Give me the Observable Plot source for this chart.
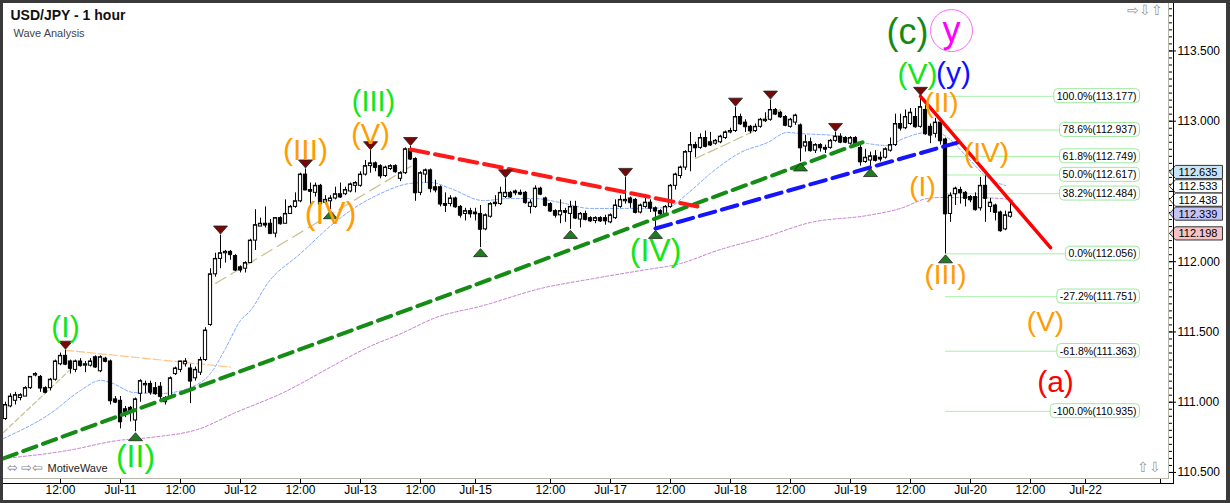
<!DOCTYPE html>
<html><head><meta charset="utf-8">
<script src="https://cdn.jsdelivr.net/npm/d3@7"></script>
<script src="https://cdn.jsdelivr.net/npm/@observablehq/plot@0.6"></script>
<style>
html,body{margin:0;padding:0;background:#fff;}
#wrap{position:relative;width:1230px;height:503px;overflow:hidden;}
#wrap svg{position:absolute;left:0;top:0;}
.ch{position:absolute;}
</style></head>
<body><div id="wrap"></div>
<script>
// ---------- data: hourly OHLC (bar 1..202) ----------
const open = [110.88,110.97,111.01,111.03,111.04,111.10,111.19,111.18,111.10,111.10,111.16,111.27,111.33,111.29,111.23,111.29,111.26,111.26,111.32,111.22,111.31,111.29,111.02,111.01,110.95,110.96,110.87,111.06,111.12,111.13,111.10,111.11,111.00,111.03,111.20,111.23,111.27,111.24,111.17,111.21,111.30,111.55,111.91,112.02,112.06,112.07,112.04,111.96,111.95,111.99,112.15,112.25,112.27,112.27,112.20,112.31,112.27,112.34,112.39,112.43,112.62,112.51,112.49,112.54,112.42,112.43,112.45,112.48,112.48,112.50,112.54,112.54,112.62,112.68,112.70,112.68,112.61,112.66,112.68,112.59,112.63,112.80,112.73,112.49,112.62,112.65,112.53,112.53,112.41,112.41,112.45,112.39,112.34,112.36,112.35,112.34,112.23,112.32,112.41,112.41,112.46,112.49,112.50,112.49,112.49,112.39,112.39,112.52,112.45,112.41,112.36,112.33,112.36,112.34,112.39,112.30,112.34,112.31,112.29,112.31,112.31,112.28,112.31,112.39,112.43,112.45,112.44,112.35,112.39,112.42,112.38,112.36,112.34,112.39,112.54,112.61,112.67,112.78,112.83,112.81,112.88,112.85,112.84,112.85,112.88,112.92,112.93,113.03,112.99,112.96,112.93,112.96,113.00,113.01,113.08,113.06,113.03,112.96,112.99,112.97,112.82,112.85,112.79,112.83,112.81,112.81,112.86,112.89,112.88,112.84,112.88,112.81,112.71,112.72,112.75,112.74,112.74,112.79,112.83,112.98,112.95,112.98,113.03,112.96,113.08,112.96,112.91,112.99,112.87,112.34,112.48,112.51,112.49,112.46,112.46,112.38,112.54,112.39,112.40,112.35,112.23,112.32];
const high = [111.00,111.06,111.07,111.06,111.11,111.18,111.21,111.19,111.11,111.17,111.30,111.35,111.37,111.30,111.30,111.31,111.29,111.31,111.33,111.33,111.32,111.30,111.04,111.04,110.97,110.97,111.03,111.16,111.15,111.15,111.14,111.14,111.04,111.18,111.25,111.29,111.31,111.27,111.25,111.32,111.53,111.95,112.06,112.19,112.08,112.08,112.05,111.97,112.00,112.16,112.37,112.31,112.39,112.30,112.31,112.32,112.44,112.40,112.49,112.63,112.66,112.56,112.56,112.55,112.47,112.47,112.53,112.56,112.53,112.56,112.57,112.64,112.72,112.79,112.71,112.69,112.68,112.69,112.69,112.64,112.81,112.82,112.74,112.64,112.66,112.66,112.58,112.54,112.49,112.47,112.46,112.40,112.38,112.38,112.38,112.40,112.34,112.42,112.47,112.53,112.59,112.50,112.51,112.51,112.50,112.44,112.54,112.53,112.46,112.42,112.37,112.44,112.38,112.43,112.43,112.35,112.36,112.32,112.32,112.32,112.33,112.34,112.44,112.47,112.60,112.46,112.45,112.41,112.45,112.44,112.39,112.37,112.40,112.55,112.63,112.68,112.79,112.92,112.85,112.91,112.93,112.92,112.87,112.90,112.93,112.95,113.10,113.05,113.01,112.97,112.98,113.02,113.06,113.15,113.09,113.07,113.04,113.02,113.05,112.98,112.90,112.88,112.84,112.84,112.83,112.87,112.92,112.91,112.89,112.89,112.89,112.84,112.80,112.78,112.79,112.78,112.81,112.88,113.05,113.05,113.08,113.09,113.09,113.177,113.11,112.98,113.02,113.00,112.88,112.49,112.53,112.53,112.50,112.47,112.49,112.60,112.61,112.45,112.41,112.36,112.36,112.42];
const low = [110.87,110.96,110.98,111.01,111.04,111.09,111.18,111.07,111.06,111.08,111.15,111.26,111.26,111.20,111.21,111.25,111.21,111.25,111.24,111.21,111.28,110.98,110.99,110.81,110.89,110.86,110.79,111.00,111.06,111.05,111.05,111.01,110.98,111.02,111.19,111.21,111.25,110.99,111.15,111.19,111.29,111.54,111.89,111.95,111.99,112.01,111.93,111.92,111.92,111.99,112.08,112.25,112.24,112.20,112.17,112.26,112.27,112.34,112.38,112.42,112.51,112.39,112.46,112.41,112.41,112.37,112.44,112.45,112.47,112.49,112.49,112.53,112.61,112.63,112.64,112.59,112.60,112.65,112.63,112.57,112.62,112.72,112.43,112.47,112.56,112.49,112.49,112.39,112.35,112.39,112.38,112.31,112.29,112.31,112.29,112.10,112.22,112.31,112.39,112.40,112.45,112.45,112.47,112.47,112.41,112.34,112.38,112.47,112.39,112.35,112.31,112.27,112.28,112.23,112.30,112.24,112.29,112.28,112.27,112.28,112.26,112.27,112.30,112.38,112.41,112.38,112.34,112.34,112.38,112.35,112.23,112.31,112.33,112.38,112.51,112.59,112.65,112.64,112.74,112.80,112.81,112.82,112.83,112.84,112.87,112.91,112.92,112.97,112.92,112.91,112.92,112.95,112.99,113.00,113.04,113.02,112.96,112.95,112.97,112.71,112.78,112.78,112.77,112.78,112.77,112.80,112.85,112.84,112.84,112.83,112.83,112.68,112.70,112.67,112.71,112.71,112.73,112.78,112.82,112.93,112.94,112.97,112.95,112.95,112.90,112.84,112.88,112.83,112.056,112.28,112.40,112.41,112.39,112.42,112.36,112.36,112.28,112.35,112.29,112.21,112.22,112.31];
const close = [110.98,111.04,111.05,111.05,111.10,111.18,111.20,111.10,111.07,111.16,111.29,111.33,111.27,111.24,111.29,111.26,111.27,111.29,111.25,111.32,111.29,111.01,111.00,110.86,110.93,110.93,111.02,111.15,111.13,111.07,111.06,111.04,111.03,111.17,111.24,111.29,111.29,111.15,111.23,111.30,111.51,111.91,112.02,112.06,112.07,112.05,111.94,111.94,111.99,112.15,112.26,112.27,112.26,112.20,112.31,112.27,112.34,112.39,112.43,112.62,112.51,112.50,112.54,112.41,112.44,112.45,112.48,112.46,112.51,112.55,112.56,112.62,112.68,112.70,112.67,112.61,112.67,112.68,112.64,112.63,112.80,112.73,112.49,112.63,112.65,112.52,112.51,112.41,112.40,112.45,112.39,112.33,112.36,112.34,112.34,112.23,112.33,112.41,112.42,112.49,112.49,112.46,112.49,112.48,112.42,112.42,112.52,112.48,112.40,112.36,112.33,112.36,112.35,112.39,112.31,112.34,112.30,112.29,112.31,112.29,112.29,112.33,112.40,112.44,112.44,112.42,112.35,112.40,112.42,112.38,112.36,112.34,112.39,112.54,112.62,112.67,112.78,112.83,112.81,112.88,112.82,112.83,112.86,112.89,112.92,112.93,113.03,112.98,112.96,112.93,112.96,113.01,113.01,113.08,113.05,113.03,112.97,113.01,113.04,112.81,112.85,112.79,112.83,112.81,112.80,112.86,112.89,112.85,112.85,112.88,112.84,112.71,112.74,112.75,112.72,112.73,112.80,112.83,112.98,112.95,113.03,113.06,112.96,113.10,112.91,112.90,112.99,112.86,112.34,112.47,112.52,112.49,112.45,112.44,112.37,112.54,112.45,112.42,112.35,112.22,112.33,112.35];

// moving averages
const maBlueBar   = [0.6,10,16,20,22,26.6,32,38,42,45,48,50,53.4,60,66.6,70,76,82,86,90,96.6,102,106.6,112,118,128,133.4,137.4,142,148,153.4,157.4,160,166.6,173.4,177.4,180.6,185.4,188,189.4,193.4,197.4,201];
const maBluePrice = [110.742,110.920,111.083,111.155,111.140,111.069,111.062,111.105,111.204,111.382,111.582,111.653,111.845,112.058,112.272,112.364,112.485,112.557,112.564,112.521,112.435,112.450,112.450,112.421,112.379,112.379,112.386,112.485,112.628,112.777,112.848,112.920,112.912,112.898,112.841,112.827,112.877,112.920,112.912,112.884,112.742,112.599,112.542];
const maPurpleBar   = [0.6,13.4,23.4,30,40,46.6,56.6,66.6,73.4,80.6,86.6,96.6,108,118.6,128,136,143.4,152.6,162,173.4,180,185.4,188,193.4,200,202.6];
const maPurplePrice = [110.599,110.656,110.727,110.749,110.813,110.920,111.069,111.261,111.389,111.496,111.596,111.688,111.809,111.880,111.937,111.987,112.080,112.172,112.279,112.329,112.379,112.450,112.457,112.457,112.450,112.436];

// trend lines [bar, price]
const greenTrend = [[0.6,110.60],[172.4,112.85]];
const blueTrend  = [[131,112.236],[191.4,112.848]];
const redDashTrend = [[82,112.799],[139.4,112.393]];
const redTrend   = [[184,113.177],[210,112.10]];
const tanA = [[0.6,110.785],[14.4,111.247]];
const tanB = [[43,111.845],[83,112.699]];
const tanC = [[139,112.734],[151,112.934]];
const tanD = [[152,113.005],[156,113.083]];
const peachLine = [[13,111.37],[46,111.25]];

// swing markers (bar indices)
const topBars = [13,44,61,74,82,101,125,147,154,167,184];
const bottomBars = [27,66,96,114,131,160,174,189];

// wave labels
const waveText  = ["(I)","(II)","(III)","(IV)","(V)","(y)","(c)","y","(III)","(V)","(IV)","(I)","(II)","(IV)","(III)","(V)","(a)"];
const waveBar   = [13,27,74.6,131,183.4,190.6,181.4,190.2,61,74,66,184.4,188.2,197.2,189,209,211];
const wavePrice = [111.53,110.61,113.14,112.08,113.33,113.34,113.63,113.645,112.79,112.905,112.343,112.528,113.126,112.77,111.902,111.574,111.14];
const waveColor = ["#14e614","#14e614","#14e614","#14e614","#14e614","#1010ff","#148a14","#ff00ff","#ff9c00","#ff9c00","#ff9c00","#ff9c00","#ff9c00","#ff9c00","#ff9c00","#ff9c00","#ff0000"];
const waveSize  = [30,32,29,32,30,30,36,36,30,29,32,28,28,28,28,28,30];

// Fibonacci levels
const fibPct   = ["100.0%","78.6%","61.8%","50.0%","38.2%","0.0%","-27.2%","-61.8%","-100.0%"];
const fibPrice = [113.177,112.937,112.749,112.617,112.484,112.056,111.751,111.363,110.935];

// right-axis price tags
const tagPrice = [112.635,112.533,112.438,112.339,112.198];
const tagFill  = ["#c9e4f4","#ffffff","#ffffff","#c4c4f4","#f6c4c4"];

// axis ticks
const xTickBar   = [12,24,36,48,60,72,84,95,110,122,134,146,158,170,182,194,206,217,232];
const xTickLabel = ["12:00","Jul-11","12:00","Jul-12","12:00","Jul-13","12:00","Jul-15","12:00","Jul-17","12:00","Jul-18","12:00","Jul-19","12:00","Jul-20","12:00","Jul-22",""];
const yMajor = [110.5,111.0,111.5,112.0,113.0,113.5];
const yHidden = [112.5];   // its label is covered by the price tags
const yMinor = d3.range(110.5, 113.86, 0.05);

// ---------- build ----------
const bars = open.map((o,k)=>({i:k+1, open:o, high:high[k], low:low[k], close:close[k]}));
const byBar = new Map(bars.map(d=>[d.i,d]));
const tops = topBars.map(i=>byBar.get(i));
const bottoms = bottomBars.map(i=>byBar.get(i));
const waves = waveText.map((t,k)=>({t, x:waveBar[k], y:wavePrice[k], c:waveColor[k], s:waveSize[k]}));
const fibs = fibPct.map((p,k)=>({y:fibPrice[k], label:`${p}(${fibPrice[k].toFixed(3)})`}));
const tags = tagPrice.map((p,k)=>({y:p, label:p.toFixed(3), fill:tagFill[k]}));
const blueMA = maBlueBar.map((b,k)=>({x:b, y:maBluePrice[k]}));
const purpleMA = maPurpleBar.map((b,k)=>({x:b, y:maPurplePrice[k]}));
const xLab = new Map(xTickBar.map((b,k)=>[b, xTickLabel[k]]));

const triDown = {draw(c){c.moveTo(-7,-4);c.lineTo(7,-4);c.lineTo(0,4);c.closePath();}};
const triUp   = {draw(c){c.moveTo(-7,4);c.lineTo(7,4);c.lineTo(0,-4);c.closePath();}};
const seg = (pts, o) => Plot.line(pts, {x:d=>d[0], y:d=>d[1], ...o});

const chart = Plot.plot({
  width: 1230, height: 503,
  marginLeft: 0, marginRight: 62, marginTop: 0, marginBottom: 25,
  x: {type:"linear", domain:[0,233.6]},
  y: {type:"linear", domain:[110.457,113.859]},
  color: {type:"identity"},
  style: {background:"white", fontFamily:"'Liberation Sans', Arial, sans-serif", fontSize:"12px", overflow:"visible"},
  marks: [
    Plot.axisX(xTickBar, {anchor:"bottom", tickSize:5, tickPadding:2, tickFormat:d=>xLab.get(d), fontSize:12}),
    Plot.axisY(yMinor, {anchor:"right", tickSize:3, tickFormat:()=>""}),
    Plot.axisY(yHidden, {anchor:"right", tickSize:7, tickFormat:()=>""}),
    Plot.axisY(yMajor, {anchor:"right", tickSize:7, tickPadding:2, tickFormat:d=>d.toFixed(3), fontSize:12}),
    // moving averages
    Plot.line(purpleMA, {x:"x", y:"y", stroke:"#c77dcf", strokeWidth:1, strokeDasharray:"3,2", curve:"monotone-x"}),
    Plot.line(blueMA, {x:"x", y:"y", stroke:"#80a8ff", strokeWidth:1, strokeDasharray:"3,2", curve:"monotone-x"}),
    seg(tanA, {stroke:"#c8bf8a", strokeWidth:1.2, strokeDasharray:"5,3"}),
    seg(tanB, {stroke:"#c8bf8a", strokeWidth:1.2, strokeDasharray:"12,6"}),
    seg(tanC, {stroke:"#c8bf8a", strokeWidth:1.2, strokeDasharray:"10,4"}),
    seg(tanD, {stroke:"#c8bf8a", strokeWidth:1.2}),
    seg(peachLine, {stroke:"#ffc488", strokeWidth:1.2, strokeDasharray:"8,3"}),
    // fib levels
    Plot.ruleY(fibs, {y:"y", x1:189, x2:228, stroke:"#a8f0a8", strokeWidth:1}),
    // candles
    Plot.ruleX(bars, {x:"i", y1:"low", y2:"high", stroke:"black", strokeWidth:1}),
    Plot.rect(bars, {x1:d=>d.i-0.32, x2:d=>d.i+0.32, y1:"open", y2:"close", fill:d=>d.close>=d.open?"white":"black", stroke:"black", strokeWidth:1}),
    Plot.ruleY(bars, {y:"close", x1:d=>d.i-0.32, x2:d=>d.i+0.32, stroke:"black", strokeWidth:1}),
    // trend lines
    seg(greenTrend, {stroke:"#158c15", strokeWidth:4, strokeDasharray:"14,7"}),
    seg(blueTrend, {stroke:"#1414ff", strokeWidth:4, strokeDasharray:"16,7"}),
    seg(redDashTrend, {stroke:"#ff1a1a", strokeWidth:4, strokeDasharray:"18,7"}),
    seg(redTrend, {stroke:"#ff0000", strokeWidth:3.5}),
    // swing markers
    Plot.dot(tops, {x:"i", y:"high", dy:-5, symbol:triDown, fill:"#780808", stroke:"#222", strokeWidth:0.8, r:5}),
    Plot.dot(bottoms, {x:"i", y:"low", dy:5, symbol:triUp, fill:"#1f7d1f", stroke:"#222", strokeWidth:0.8, r:5}),
    // fib labels
    Plot.text(fibs, {x:228, y:"y", text:"label", textAnchor:"end", dx:-4, fontSize:10.5, fill:"black"}),
    // price tags
    Plot.text(tags, {y:"y", text:"label", frameAnchor:"right", textAnchor:"start", dx:10, fontSize:11, fill:"black"}),
    // wave labels
    Plot.dot([waves[7]], {x:"x", y:"y", r:21, stroke:"#ff66ff", strokeWidth:1, fill:"none"}),
    Plot.text(waves, {x:"x", y:"y", text:"t", fill:"c", fontSize:"s", fontFamily:"'Liberation Sans', Arial, sans-serif"}),
    // titles & chrome text
    Plot.text(["USD/JPY - 1 hour"], {frameAnchor:"top-left", dx:10, dy:10, fontSize:14, fontWeight:"bold", fill:"#111"}),
    Plot.text(["Wave Analysis"], {frameAnchor:"top-left", dx:13, dy:29, fontSize:11, fill:"#444"}),
    Plot.text(["MotiveWave"], {frameAnchor:"top-left", dx:47, dy:464, fontSize:11, fill:"#222"}),
    Plot.text(["⬄ ⇨⇦"], {frameAnchor:"top-left", dx:6, dy:462, fontSize:13, fill:"#888"}),
    Plot.text(["⇨⇩⇧"], {frameAnchor:"top-right", dx:-6, dy:5, fontSize:14, fill:"#999"}),
    Plot.text(["⇧⇩"], {frameAnchor:"top-right", dx:-8, dy:462, fontSize:14, fill:"#999"})
  ]
});

const wrap = document.getElementById("wrap");
wrap.appendChild(chart);

// decorate fib labels and price tags with boxes
const NS = "http://www.w3.org/2000/svg";
const tagMap = new Map(tags.map(t=>[t.label,t.fill]));
chart.querySelectorAll("text").forEach(t=>{
  const s = t.textContent;
  if (s.includes("%(")) {
    const b = t.getBBox();
    const r = document.createElementNS(NS,"rect");
    r.setAttribute("x", b.x-3); r.setAttribute("y", b.y-1);
    r.setAttribute("width", b.width+6); r.setAttribute("height", b.height+2);
    r.setAttribute("rx", 4); r.setAttribute("fill","white"); r.setAttribute("stroke","#9fe89f");
    if (t.getAttribute("transform")) r.setAttribute("transform", t.getAttribute("transform"));
    t.parentNode.insertBefore(r, t);
  } else if (tagMap.has(s)) {
    const b = t.getBBox();
    const yc = b.y + b.height/2, h = 6.6, x0 = b.x - 3, x1 = b.x + b.width + 5;
    const p = document.createElementNS(NS,"polygon");
    p.setAttribute("points", `${b.x-9},${yc} ${x0},${yc-h} ${x1},${yc-h} ${x1},${yc+h} ${x0},${yc+h}`);
    p.setAttribute("fill", tagMap.get(s)); p.setAttribute("stroke","#333"); p.setAttribute("stroke-width","1");
    if (t.getAttribute("transform")) p.setAttribute("transform", t.getAttribute("transform"));
    t.parentNode.insertBefore(p, t);
  }
});

// window chrome / axis lines
const box = (l,t,w,h,c)=>{const d=document.createElement("div");d.className="ch";Object.assign(d.style,{left:l+"px",top:t+"px",width:w+"px",height:h+"px",background:c});wrap.appendChild(d);};
box(0,0,1230,3,"#3a3a3a");
box(0,0,3,503,"#3a3a3a");
box(1226,0,4,503,"#3a3a3a");
box(0,500,1230,3,"#3a3a3a");
box(3,478,1165,1,"#b4b4a8");
box(1168,3,1,476,"#b4b4a8");
box(3,483,1171,1,"#000");
box(1173,3,1,481,"#000");
</script></body></html>
